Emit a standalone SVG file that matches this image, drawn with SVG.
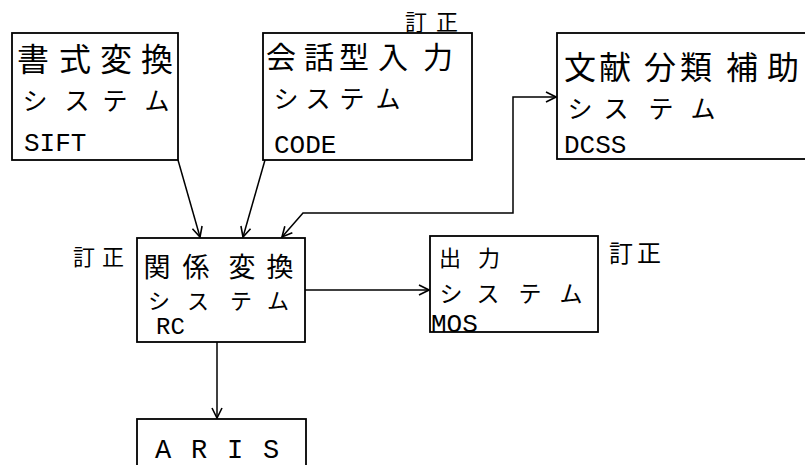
<svg xmlns="http://www.w3.org/2000/svg" width="805" height="465" viewBox="0 0 805 465">
<style>
.box{fill:#fff;stroke:#000;stroke-width:1.8}
.jp{font-family:"Noto Sans CJK JP","Noto Sans CJK SC",sans-serif;fill:#000;text-anchor:middle}
.mono{font-family:"Liberation Mono","DejaVu Sans Mono",monospace;fill:#000}
.con{fill:none;stroke:#000;stroke-width:1.5}
</style>
<defs>
<marker id="ah" viewBox="0 0 12 12" refX="11" refY="6" markerWidth="12" markerHeight="12" markerUnits="userSpaceOnUse" orient="auto-start-reverse">
<path d="M1,1 L11,6 L1,11" fill="none" stroke="#000" stroke-width="1.6"/>
</marker>
</defs>
<rect width="805" height="465" fill="#fff"/>
<g id="connectors">
<line class="con" x1="178" y1="160" x2="200" y2="237" marker-end="url(#ah)"/>
<line class="con" x1="265" y1="160" x2="243" y2="237" marker-end="url(#ah)"/>
<path class="con" d="M282,237 L303,213 L513,213 L513,97 L556,97" marker-start="url(#ah)" marker-end="url(#ah)"/>
<line class="con" x1="305" y1="290" x2="429" y2="290" marker-end="url(#ah)"/>
<line class="con" x1="217" y1="342" x2="217" y2="418" stroke-width="2.5" marker-end="url(#ah)"/>
</g>
<g id="sift">
<rect class="box" x="12" y="33" width="166" height="127"/>
<text class="jp" font-size="32" x="33 75 116 157" y="71">書式変換</text>
<text class="jp" font-size="25" x="35 77 115 157" y="110">システム</text>
<text class="mono" font-size="26" x="24" y="151">SIFT</text>
</g>
<g id="code">
<rect class="box" x="263" y="33" width="209" height="127"/>
<text class="jp" font-size="30" x="281 319 354 393 438" y="68">会話型入力</text>
<text class="jp" font-size="25" x="286 318 352 388" y="108">システム</text>
<text class="mono" font-size="26" x="274" y="153">CODE</text>
<text class="jp" font-size="22" x="416 447" y="30">訂正</text>
</g>
<g id="dcss">
<rect class="box" x="557" y="33" width="260" height="126"/>
<text class="jp" font-size="32" x="580 615 660 696 742 783" y="79">文献分類補助</text>
<text class="jp" font-size="25" x="580 616 661 703" y="118">システム</text>
<text class="mono" font-size="26" x="564" y="153">DCSS</text>
</g>
<g id="rc">
<rect class="box" x="137" y="238" width="168" height="104"/>
<text class="jp" font-size="22" x="84 113" y="265">訂正</text>
<text class="jp" font-size="27" x="157 196 242 280" y="277">関係変換</text>
<text class="jp" font-size="22" x="159 198 241 278" y="309">システム</text>
<text class="mono" font-size="24" x="156" y="334">RC</text>
</g>
<g id="mos">
<rect class="box" x="430" y="236" width="168" height="96"/>
<text class="jp" font-size="22" x="450 489" y="266">出力</text>
<text class="jp" font-size="23" x="451 488 530 571" y="302">システム</text>
<text class="mono" font-size="26" x="431" y="332">MOS</text>
<text class="jp" font-size="24" x="621 649" y="262">訂正</text>
</g>
<g id="aris">
<rect class="box" x="137" y="419" width="169" height="60"/>
<text class="mono" font-size="27" letter-spacing="1.8" x="155" y="458">A R I S</text>
</g>
</svg>
